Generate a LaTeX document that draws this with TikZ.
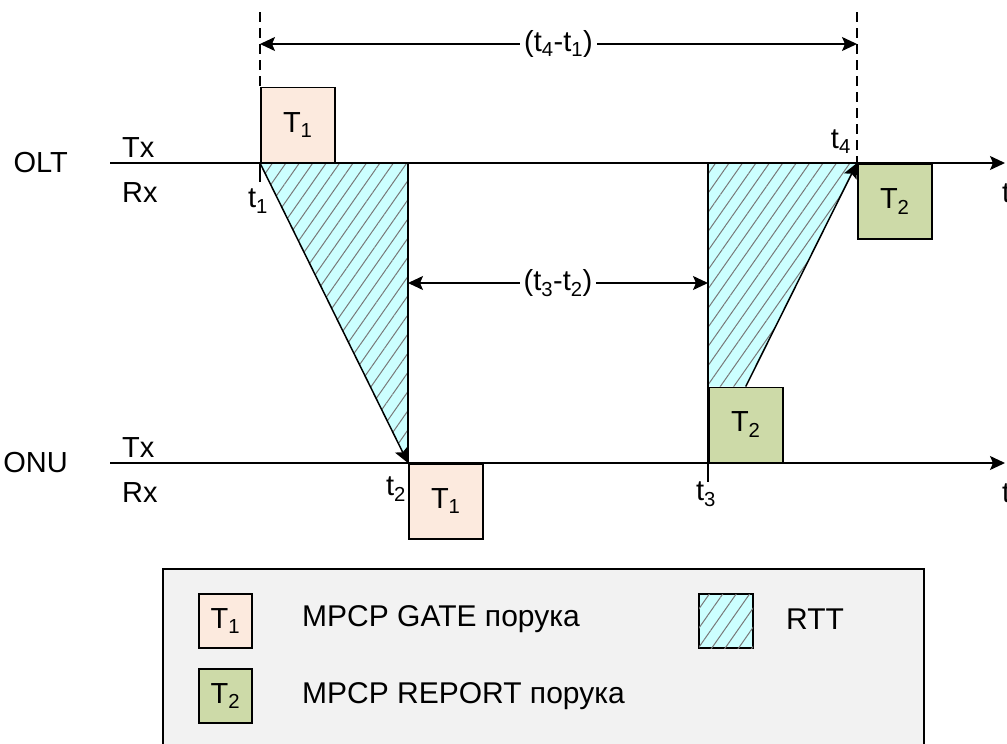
\documentclass[tikz,border=0pt]{standalone}
\usepackage{fontspec}
\setmainfont{Liberation Sans}
\usetikzlibrary{arrows.meta,patterns.meta}
\definecolor{gatecol}{RGB}{252,234,222}
\definecolor{reportcol}{RGB}{205,218,168}
\definecolor{rttcol}{RGB}{204,255,255}
\definecolor{hatchcol}{RGB}{120,120,120}
\definecolor{legcol}{RGB}{242,242,242}

\begin{document}
\begin{tikzpicture}[x=1pt,y=-1pt,>={Stealth[length=15pt,width=14pt,inset=3pt]},
    font=\fontsize{29}{34}\selectfont,
    msg/.style={rectangle,draw,line width=1.5pt,minimum width=74pt,minimum height=75pt,inner sep=0pt},
    gate/.style={msg,fill=gatecol},
    report/.style={msg,fill=reportcol},
    rtt/.style={fill=rttcol,postaction={pattern={Lines[angle=55,distance=11pt,line width=1pt]},pattern color=hatchcol}},
    axis/.style={->,line width=1.5pt},
    dim/.style={<->,line width=1.5pt},
    lbl/.style={inner sep=0pt},
    legtext/.style={anchor=west,inner sep=0pt,font=\fontsize{30}{36}\selectfont}]
\useasboundingbox (0,0) rectangle (1007,744);
% time points
\coordinate (t1) at (260,163); \coordinate (t2) at (408,463);
\coordinate (t3) at (708,463); \coordinate (t4) at (857,163);
\coordinate (r1) at (408,163); \coordinate (r2) at (708,163);
\coordinate (t1tick) at (260,182); \coordinate (t3tick) at (708,482);
\coordinate (top1) at (260,12); \coordinate (top4) at (857,12);
\coordinate (oltL) at (110,163); \coordinate (oltR) at (1005,163);
\coordinate (onuL) at (110,463); \coordinate (onuR) at (1005,463);
% messages
\node[report,anchor=south west] (rtx) at (t3) {T\textsubscript{2}};
\fill[rtt] (t1) -- (r1) -- (t2) -- cycle;
\fill[rtt] (r2) -- (t4) -- (rtx.north) -- (rtx.north west) -- cycle;
\node[gate,anchor=south west] (gtx) at (t1) {T\textsubscript{1}};
\node[gate,anchor=north west] (grx) at (t2) {T\textsubscript{1}};
\node[report,anchor=south west] (rtx) at (t3) {T\textsubscript{2}};
\node[report,anchor=north west] (rrx) at (t4) {T\textsubscript{2}};
% time axes
\draw[axis] (oltL) -- (oltR);
\draw[axis] (onuL) -- (onuR);
\node[lbl,anchor=east] (olt) at (68,163) {OLT};
\node[lbl,anchor=base west] (oltx) at (122,157) {Tx};
\node[lbl,anchor=base west] (olrx) at (122,202) {Rx};
\node[lbl,anchor=east] (onu) at (68,463) {ONU};
\node[lbl,anchor=base west] (ontx) at (122,457) {Tx};
\node[lbl,anchor=base west] (onrx) at (122,502) {Rx};
\node[lbl,anchor=north west] (tolt) at (1002,184) {t};
\node[lbl,anchor=north west] (tonu) at (1002,484) {t};
% propagation
\draw[line width=1.5pt] (r1) -- (t2);
\draw[line width=1.5pt] (r2) -- (t3tick);
\draw[line width=1.5pt] (t1) -- (t1tick);
\draw[->,line width=1.5pt] (t1) -- (t2);
\draw[->,line width=1.5pt] (rtx.north) -- (t4);
\node[lbl,anchor=north] (lt1) at (258,189) {t\textsubscript{1}};
\node[lbl,anchor=north] (lt2) at (396,477) {t\textsubscript{2}};
\node[lbl,anchor=north] (lt3) at (706,482) {t\textsubscript{3}};
\node[lbl,anchor=south east] (lt4) at (851,154) {t\textsubscript{4}};
% intervals
\draw[line width=1.3pt,dash pattern=on 10pt off 6pt] (top1) -- (gtx.north west);
\draw[line width=1.3pt,dash pattern=on 10pt off 6pt] (top4) -- (t4);
\coordinate (d1) at (260,44); \coordinate (d4) at (857,44);
\draw[dim] (d1) -- node[fill=white,inner sep=4pt] {(t\textsubscript{4}-t\textsubscript{1})} (d4);
\coordinate (d2) at (408,283); \coordinate (d3) at (708,283);
\draw[dim] (d2) -- node[fill=white,inner sep=4pt] {(t\textsubscript{3}-t\textsubscript{2})} (d3);
% legend
\draw[fill=legcol,line width=1.5pt] (163,569) rectangle (924,790);
\node[gate,minimum width=53pt,minimum height=54pt] (lgate) at (225.5,621) {T\textsubscript{1}};
\node[legtext] (lgatetx) at (302,619) {MPCP GATE порука};
\node[report,minimum width=53pt,minimum height=54pt] (lrep) at (225.5,696) {T\textsubscript{2}};
\node[legtext] (lreptx) at (302,696) {MPCP REPORT порука};
\node[rtt,draw,line width=1.5pt,minimum width=54pt,minimum height=54pt] (lrtt) at (726,621) {};
\node[legtext] (lrtttx) at (786,619) {RTT};
\end{tikzpicture}
\end{document}
